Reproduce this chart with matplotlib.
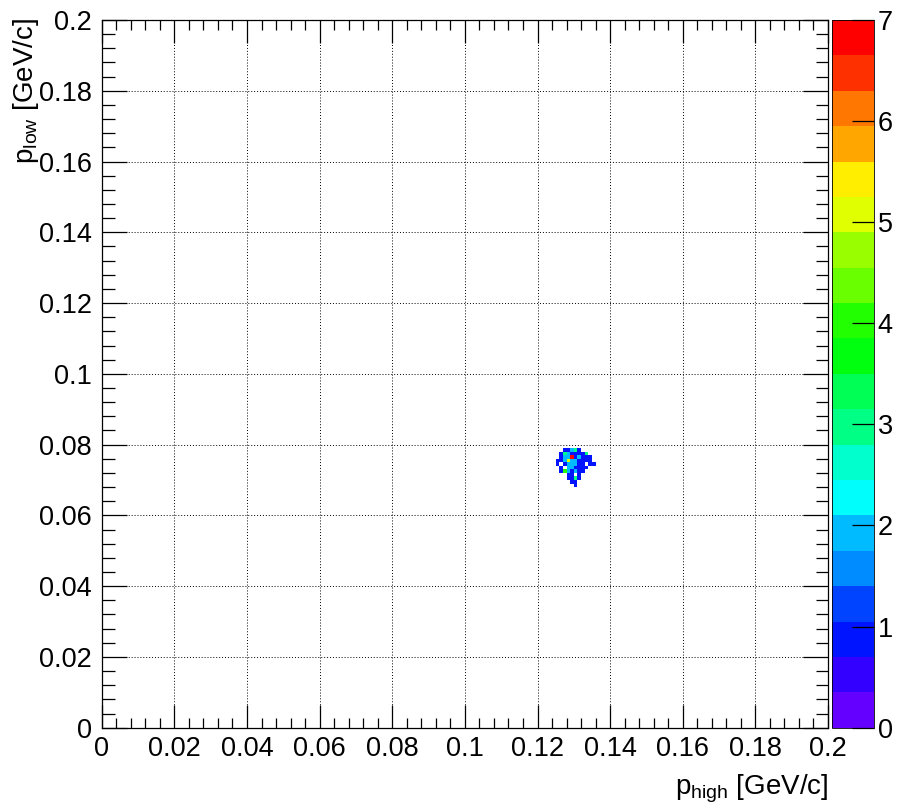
import colorsys
import numpy as np
import matplotlib
matplotlib.use("Agg")
import matplotlib.pyplot as plt
from matplotlib.colors import ListedColormap, BoundaryNorm
from matplotlib.ticker import MultipleLocator, FuncFormatter

# -----------------------------
# Histogram content (filled bins only, lower bin edges in GeV/c)
# -----------------------------
cell_phigh = [0.127, 0.128, 0.129, 0.130, 0.131,
              0.126, 0.127, 0.128, 0.129, 0.130, 0.131, 0.132, 0.133,
              0.126, 0.127, 0.128, 0.129, 0.130, 0.131, 0.132, 0.133, 0.134,
              0.125, 0.126, 0.127, 0.128, 0.129, 0.130, 0.131, 0.132, 0.133, 0.134,
              0.125, 0.127, 0.128, 0.129, 0.130, 0.131, 0.132, 0.134, 0.135,
              0.126, 0.128, 0.129, 0.130, 0.131, 0.132, 0.133,
              0.126, 0.127, 0.128, 0.129, 0.130, 0.131, 0.132,
              0.128, 0.129, 0.131,
              0.128, 0.129, 0.130, 0.131,
              0.129, 0.130,
              0.130]
cell_plow = ([0.078] * 5 + [0.077] * 8 + [0.076] * 9 + [0.075] * 10 +
             [0.074] * 9 + [0.073] * 7 + [0.072] * 7 + [0.071] * 3 +
             [0.070] * 4 + [0.069] * 2 + [0.068] * 1)
cell_counts = [1, 1, 2, 3, 1,
               1, 3, 2, 1, 1, 1, 1, 3,
               1, 2, 2, 7, 1, 2, 1, 1, 1,
               1, 1, 2, 5, 2, 2, 1, 1, 1, 1,
               1, 1, 2, 2, 2, 1, 1, 1, 1,
               1, 2, 2, 1, 1, 1, 1,
               1, 4, 2, 1, 2, 1, 1,
               1, 1, 1,
               1, 1, 3, 1,
               1, 1,
               1]

n_bins = 200
axis_range = [0.0, 0.2]
z_max = 7
n_contours = 20

# -----------------------------
# Style
# -----------------------------
plt.rcParams["font.family"] = ["Liberation Sans", "DejaVu Sans"]
plt.rcParams["mathtext.fontset"] = "custom"
plt.rcParams["mathtext.rm"] = "Liberation Sans"
plt.rcParams["mathtext.it"] = "Liberation Sans"

# violet -> red "pretty" palette, sampled at 20 contour levels
pal_idx = [int((k + 0.99) * 50 / n_contours) for k in range(n_contours)]
colors = [colorsys.hls_to_rgb((280 - (i + 1) * 5.6) / 360.0, 0.5, 1.0) for i in pal_idx]
cmap = ListedColormap(colors)
cmap.set_over(colors[-1])
levels = np.linspace(0, z_max, n_contours + 1)
norm = BoundaryNorm(levels, cmap.N)

# -----------------------------
# Fill histogram
# -----------------------------
half = 0.5 * (axis_range[1] - axis_range[0]) / n_bins
H, xedges, yedges = np.histogram2d(np.array(cell_phigh) + half,
                                   np.array(cell_plow) + half,
                                   bins=n_bins, range=[axis_range, axis_range],
                                   weights=cell_counts)
H = np.ma.masked_equal(H.T, 0)

# -----------------------------
# Plot
# -----------------------------
fig = plt.figure(figsize=(8.97, 8.09), dpi=100)
ax = fig.add_axes([0.1134, 0.1005, 0.8097, 0.8748])
mesh = ax.pcolormesh(xedges, yedges, H, cmap=cmap, norm=norm, zorder=2)

ax.set_xlim(axis_range)
ax.set_ylim(axis_range)
ax.xaxis.set_major_locator(MultipleLocator(0.02))
ax.yaxis.set_major_locator(MultipleLocator(0.02))
ax.xaxis.set_minor_locator(MultipleLocator(0.004))
ax.yaxis.set_minor_locator(MultipleLocator(0.004))
fmt = FuncFormatter(lambda v, pos: f"{v:g}")
ax.xaxis.set_major_formatter(fmt)
ax.yaxis.set_major_formatter(fmt)

ax.grid(True, which="major", color="black", linestyle=(0, (1, 2)), linewidth=0.7, zorder=1)
ax.set_axisbelow(True)
ax.tick_params(which="both", direction="in", top=True, right=True,
               color="black", width=0.9, labelsize=19.5)
ax.tick_params(axis="x", which="major", length=16.5, pad=6)
ax.tick_params(axis="x", which="minor", length=7.5)
ax.tick_params(axis="y", which="major", length=18, pad=7)
ax.tick_params(axis="y", which="minor", length=9)
for s in ax.spines.values():
    s.set_linewidth(0.9)

fig.text(0.924, 0.0185, r"p$_{\mathrm{high}}$ [GeV/c]", ha="right", va="baseline", fontsize=20)
fig.text(0.029, 0.977, r"p$_{\mathrm{low}}$ [GeV/c]", ha="center", va="top",
         rotation=90, fontsize=20)

# palette axis
cax = fig.add_axes([0.9272, 0.1005, 0.0468, 0.8748])
cb = fig.colorbar(mesh, cax=cax, ticks=range(z_max + 1))
cb.outline.set_linewidth(0.6)
cax.tick_params(direction="in", length=16, width=0.9, color="black",
                labelsize=19.5, pad=3)
cax.minorticks_off()

fig.savefig("out.png", dpi=100)
